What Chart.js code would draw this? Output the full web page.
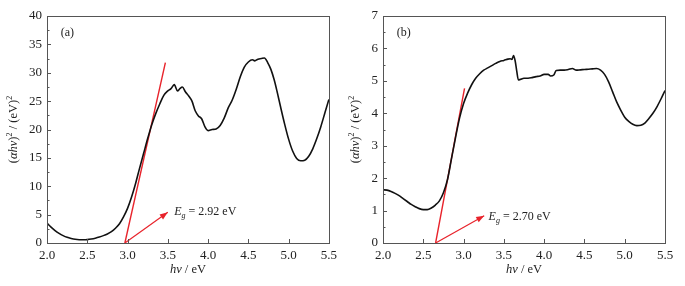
<!DOCTYPE html>
<html>
<head>
<meta charset="utf-8">
<script src="https://cdn.jsdelivr.net/npm/chart.js@4.4.1/dist/chart.umd.min.js"></script>
<style>
html, body { margin: 0; padding: 0; background: #fff; }
#wrap { position: relative; width: 685px; height: 286px; }
.panel { position: absolute; top: 0; height: 286px; }
</style>
</head>
<body>
<div id="wrap">
    <div class="panel" style="left:0;width:342px"><canvas id="chartA"></canvas></div>
    <div class="panel" style="left:342px;width:343px"><canvas id="chartB"></canvas></div>
</div>
<script>
// (a) curva
const energiaA = [2.0, 2.05, 2.1, 2.15, 2.2, 2.25, 2.3, 2.35, 2.4, 2.45, 2.5, 2.55, 2.6, 2.65, 2.7, 2.75, 2.8, 2.85, 2.9, 2.95,
    3.0, 3.05, 3.1, 3.15, 3.2, 3.25, 3.3, 3.35, 3.4, 3.45, 3.5, 3.54, 3.58, 3.62, 3.65, 3.68, 3.72, 3.76, 3.8, 3.84,
    3.88, 3.92, 3.96, 4.0, 4.05, 4.1, 4.15, 4.2, 4.25, 4.3, 4.35, 4.4, 4.45, 4.5, 4.55, 4.58, 4.62, 4.66, 4.7, 4.74,
    4.78, 4.82, 4.86, 4.9, 4.95, 5.0, 5.05, 5.1, 5.15, 5.2, 5.25, 5.3, 5.35, 5.4, 5.45, 5.5];
const valoresA = [3.5, 2.8, 2.2, 1.7, 1.3, 1.0, 0.8, 0.65, 0.58, 0.57, 0.6, 0.7, 0.85, 1.05, 1.3, 1.6, 2.0, 2.6, 3.4, 4.6,
    6.1, 8.1, 10.5, 13.2, 15.8, 18.4, 20.8, 22.8, 24.5, 26.0, 26.8, 27.2, 27.9, 26.8, 27.2, 27.5, 26.6, 25.9, 25.0, 23.3,
    22.4, 21.9, 20.5, 19.8, 20.0, 20.1, 20.7, 22.0, 23.8, 25.2, 27.1, 29.3, 31.0, 31.9, 32.3, 32.1, 32.4, 32.5, 32.6, 31.8,
    30.6, 28.8, 26.5, 24.0, 21.0, 18.3, 16.2, 14.9, 14.5, 14.6, 15.3, 16.6, 18.4, 20.5, 22.9, 25.3];
const tangenteAx = [2.967, 3.47];
const tangenteAy = [0, 31.8];
const flechaAx = [2.967, 3.50];
const flechaAy = [0, 5.4];
const ejeXA = [2.0, 5.5];
const ejeYA = [0, 40];

// (b) curva
const energiaB = [2.0, 2.05, 2.1, 2.15, 2.2, 2.25, 2.3, 2.35, 2.4, 2.45, 2.5, 2.55, 2.6, 2.65, 2.7, 2.75, 2.8, 2.85, 2.9, 2.95,
    3.0, 3.05, 3.1, 3.15, 3.2, 3.25, 3.3, 3.35, 3.4, 3.45, 3.5, 3.55, 3.58, 3.6, 3.62, 3.64, 3.66, 3.68, 3.7, 3.75,
    3.8, 3.85, 3.9, 3.95, 4.0, 4.05, 4.08, 4.12, 4.15, 4.2, 4.25, 4.3, 4.35, 4.4, 4.45, 4.5, 4.55, 4.6, 4.65, 4.7,
    4.75, 4.8, 4.85, 4.9, 4.95, 5.0, 5.05, 5.1, 5.15, 5.2, 5.25, 5.3, 5.35, 5.4, 5.45, 5.5];
const valoresB = [1.64, 1.63, 1.59, 1.53, 1.46, 1.37, 1.28, 1.19, 1.12, 1.06, 1.03, 1.03, 1.08, 1.17, 1.3, 1.55, 1.95, 2.6, 3.25, 3.85,
    4.3, 4.62, 4.88, 5.08, 5.22, 5.33, 5.4, 5.47, 5.54, 5.6, 5.63, 5.67, 5.68, 5.66, 5.78, 5.62, 5.3, 5.03, 5.04, 5.08,
    5.08, 5.1, 5.13, 5.15, 5.2, 5.2, 5.15, 5.18, 5.32, 5.33, 5.33, 5.35, 5.38, 5.33, 5.34, 5.35, 5.36, 5.37, 5.38, 5.33,
    5.2, 4.97, 4.66, 4.35, 4.1, 3.88, 3.75, 3.66, 3.62, 3.63, 3.7, 3.84, 4.0, 4.2, 4.44, 4.7];
const tangenteBx = [2.653, 3.012];
const tangenteBy = [0, 4.77];
const flechaBx = [2.653, 3.256];
const flechaBy = [0, 0.84];
const ejeXB = [2.0, 5.5];
const ejeYB = [0, 7];

const SERIF = '"Liberation Serif", "Times New Roman", serif';
const GRIS = '#555';
const ROJO = '#e8232b';

function puntos(xs, ys) {
    return xs.map((x, i) => ({ x: x, y: ys[i] }));
}

// marco, ticks hacia dentro, etiquetas y flecha
const marcoPlugin = {
    id: 'marco',
    afterDraw(chart, args, opts) {
        const ctx = chart.ctx;
        const { left, right, top, bottom } = chart.chartArea;
        const sx = chart.scales.x;
        const sy = chart.scales.y;
        ctx.save();
        ctx.strokeStyle = GRIS;
        ctx.lineWidth = 1;
        ctx.strokeRect(Math.round(left) + 0.5, Math.round(top) + 0.5, Math.round(right - left), Math.round(bottom - top));

        ctx.beginPath();
        sx.ticks.forEach(t => {
            const px = Math.round(sx.getPixelForValue(t.value)) + 0.5;
            ctx.moveTo(px, bottom);
            ctx.lineTo(px, bottom - 4);
        });
        const paso = sy.ticks[1].value - sy.ticks[0].value;
        sy.ticks.forEach(t => {
            const py = Math.round(sy.getPixelForValue(t.value)) + 0.5;
            ctx.moveTo(left, py);
            ctx.lineTo(left + 4, py);
            if (t.value + paso / 2 < sy.max) {
                const pm = Math.round(sy.getPixelForValue(t.value + paso / 2)) + 0.5;
                ctx.moveTo(left, pm);
                ctx.lineTo(left + 2.5, pm);
            }
        });
        ctx.stroke();

        // punta de flecha
        const meta = chart.getDatasetMeta(2);
        const p0 = meta.data[0], p1 = meta.data[1];
        const ang = Math.atan2(p1.y - p0.y, p1.x - p0.x);
        ctx.fillStyle = ROJO;
        ctx.beginPath();
        ctx.moveTo(p1.x, p1.y);
        ctx.lineTo(p1.x - 8 * Math.cos(ang) + 3 * Math.sin(ang), p1.y - 8 * Math.sin(ang) - 3 * Math.cos(ang));
        ctx.lineTo(p1.x - 8 * Math.cos(ang) - 3 * Math.sin(ang), p1.y - 8 * Math.sin(ang) + 3 * Math.cos(ang));
        ctx.closePath();
        ctx.fill();

        ctx.fillStyle = '#222';
        ctx.textBaseline = 'middle';
        // (a) / (b)
        ctx.font = '12px ' + SERIF;
        ctx.textAlign = 'left';
        ctx.fillText(opts.etiqueta, sx.getPixelForValue(opts.posEtiqueta[0]), sy.getPixelForValue(opts.posEtiqueta[1]));

        // E_g = ...
        let ex = sx.getPixelForValue(opts.posEg[0]);
        const ey = sy.getPixelForValue(opts.posEg[1]);
        ctx.font = 'italic 12px ' + SERIF;
        ctx.fillText('E', ex, ey);
        ex += ctx.measureText('E').width;
        ctx.font = 'italic 8px ' + SERIF;
        ctx.fillText('g', ex, ey + 4);
        ex += ctx.measureText('g').width;
        ctx.font = '12px ' + SERIF;
        ctx.fillText(' = ' + opts.eg + ' eV', ex, ey);

        // titulo eje x
        const partesX = [['italic ', 'hν'], ['', ' / eV']];
        dibujarPartes(ctx, partesX, (left + right) / 2, 270);

        // titulo eje y
        ctx.save();
        ctx.translate(14, (top + bottom) / 2);
        ctx.rotate(-Math.PI / 2);
        const partesY = [['', '('], ['italic ', 'αhν'], ['', ')'], ['sup', '2'], ['', ' / (eV)'], ['sup', '2']];
        dibujarPartes(ctx, partesY, 0, 0);
        ctx.restore();
        ctx.restore();
    }
};

function dibujarPartes(ctx, partes, cx, cy) {
    let total = 0;
    partes.forEach(p => {
        ctx.font = (p[0] === 'sup' ? '8px ' : p[0] + '12.5px ') + SERIF;
        total += ctx.measureText(p[1]).width;
    });
    let x = cx - total / 2;
    ctx.textAlign = 'left';
    ctx.textBaseline = 'middle';
    partes.forEach(p => {
        ctx.font = (p[0] === 'sup' ? '8px ' : p[0] + '12.5px ') + SERIF;
        ctx.fillText(p[1], x, p[0] === 'sup' ? cy - 4 : cy);
        x += ctx.measureText(p[1]).width;
    });
}

function crearGrafico(id, xs, ys, tx, ty, fx, fy, ejeX, ejeY, pasoY, anchoY, padDer, deco) {
    const ctx = document.getElementById(id).getContext('2d');
    return new Chart(ctx, {
        type: 'line',
        data: {
            datasets: [
                { data: puntos(xs, ys), borderColor: '#111', borderWidth: 1.6, pointRadius: 0, cubicInterpolationMode: 'monotone' },
                { data: puntos(tx, ty), borderColor: ROJO, borderWidth: 1.4, pointRadius: 0 },
                { data: puntos(fx, fy), borderColor: ROJO, borderWidth: 1.2, pointRadius: 0 }
            ]
        },
        options: {
            responsive: true,
            maintainAspectRatio: false,
            animation: false,
            layout: { padding: { top: 16, right: padDer, left: 0, bottom: 0 } },
            plugins: { legend: { display: false }, tooltip: { enabled: false }, marco: deco },
            scales: {
                x: {
                    type: 'linear',
                    min: ejeX[0],
                    max: ejeX[1],
                    grid: { display: false, drawTicks: false },
                    border: { display: false },
                    afterFit: s => { s.height = 43; },
                    ticks: {
                        stepSize: 0.5,
                        padding: 5,
                        color: '#222',
                        font: { family: SERIF, size: 13 },
                        maxRotation: 0,
                        callback: v => v.toFixed(1)
                    }
                },
                y: {
                    min: ejeY[0],
                    max: ejeY[1],
                    grid: { display: false, drawTicks: false },
                    border: { display: false },
                    afterFit: s => { s.width = anchoY; },
                    ticks: {
                        stepSize: pasoY,
                        padding: 5,
                        color: '#222',
                        font: { family: SERIF, size: 13 }
                    }
                }
            }
        },
        plugins: [marcoPlugin]
    });
}

crearGrafico('chartA', energiaA, valoresA, tangenteAx, tangenteAy, flechaAx, flechaAy, ejeXA, ejeYA, 5, 47, 12,
    { etiqueta: '(a)', posEtiqueta: [2.17, 37], eg: '2.92', posEg: [3.58, 5.5] });
crearGrafico('chartB', energiaB, valoresB, tangenteBx, tangenteBy, flechaBx, flechaBy, ejeXB, ejeYB, 1, 41, 20,
    { etiqueta: '(b)', posEtiqueta: [2.17, 6.49], eg: '2.70', posEg: [3.31, 0.82] });
</script>
</body>
</html>
